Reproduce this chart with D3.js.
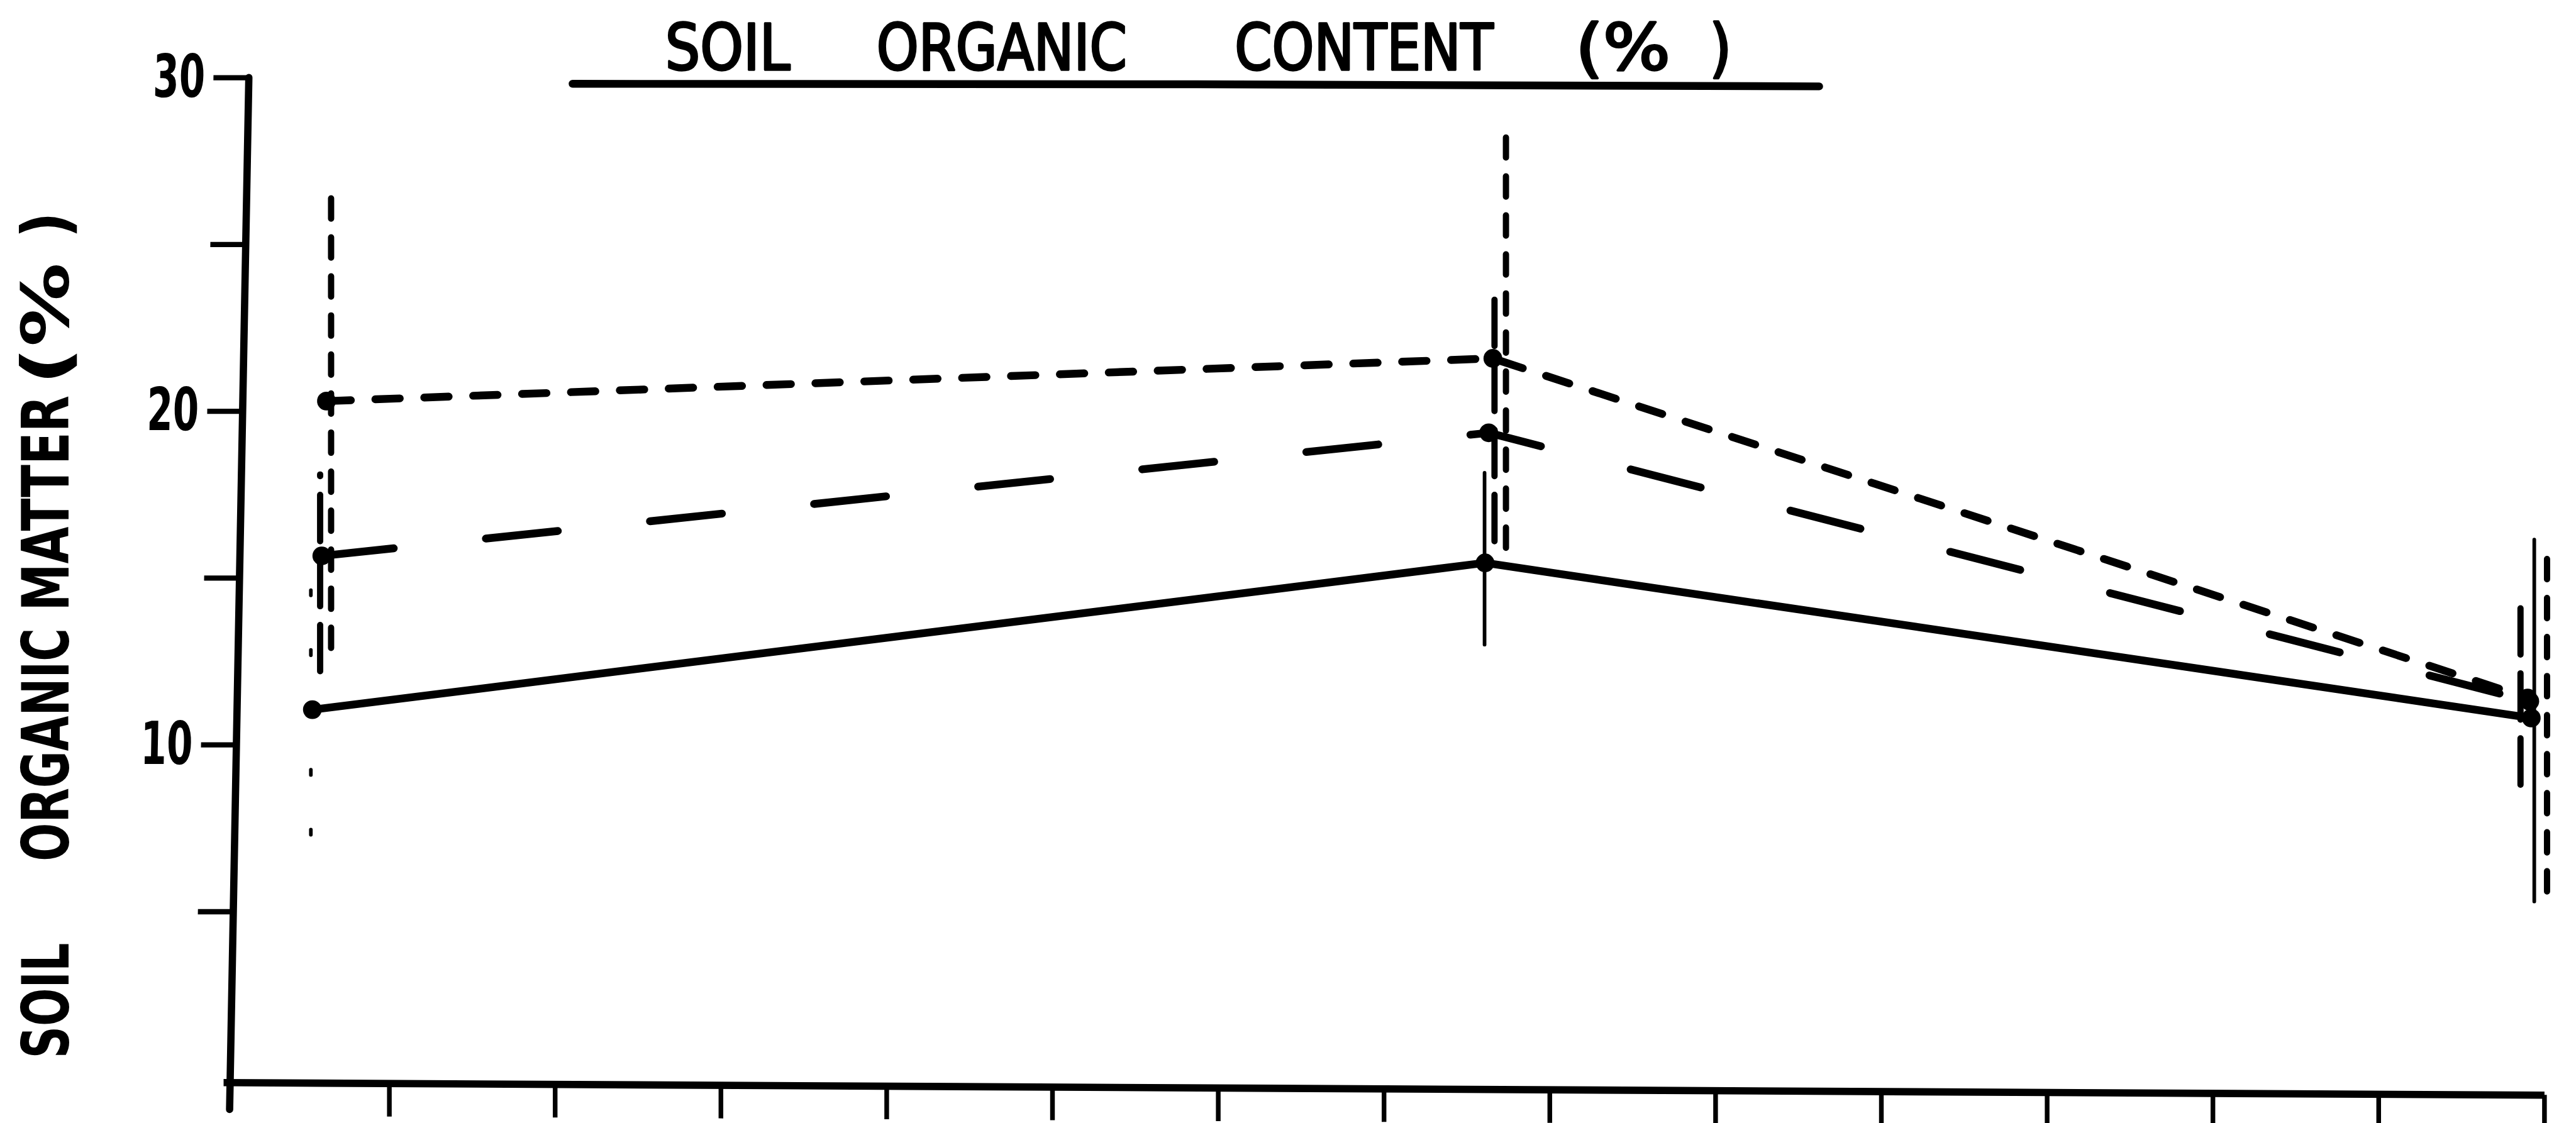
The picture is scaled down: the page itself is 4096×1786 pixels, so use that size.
<!DOCTYPE html>
<html>
<head>
<meta charset="utf-8">
<script src="https://cdn.jsdelivr.net/npm/d3@7"></script>
<style>
  html, body { margin: 0; padding: 0; background: #fff; }
  svg { display: block; }
  text { font-family: "DejaVu Sans Condensed", "DejaVu Sans", sans-serif; font-stretch: condensed; }
</style>
</head>
<body>
<svg id="chart"></svg>
<script>
// ---- data -------------------------------------------------------------
// x positions are given on the 14-division time axis
const xTickValues = [1, 2, 3, 4, 5, 6, 7, 8, 9, 10, 11, 12, 13, 14];
const yTickValues = [5, 10, 15, 20, 25, 30];
const yTickLabels = ["", "10", "", "20", "", "30"];

// series 1 (solid line)
const solidX    = [0.537, 7.611, 13.922];
const solidMean = [11.05, 15.45, 10.8];
const solidLow  = [7.3, 13.0, 5.3];
const solidHigh = [14.8, 18.15, 16.15];
const solidErrX = [0.528, 7.608, 13.94];

// series 2 (long dashes)
const longX    = [0.594, 7.633, 13.913];
const longMean = [15.66, 19.35, 11.3];
const longLow  = [12.2, 16.1, 8.8];
const longHigh = [18.1, 23.4, 14.3];
const longErrX = [0.584, 7.668, 13.857];

// series 3 (short dashes)
const shortX    = [0.622, 7.658, 13.9];
const shortMean = [20.3, 21.58, 11.4];
const shortLow  = [12.9, 15.9, 5.6];
const shortHigh = [26.6, 28.2, 16.1];
const shortErrX = [0.65, 7.737, 14.017];

const titleWords  = ["SOIL", "ORGANIC", "CONTENT", "(%", ")"];
const yLabelWords = ["SOIL", "ORGANIC", "MATTER", "(%", ")"];

// ---- layout of the hand-lettered words (start/end along the baseline) --
const titleSpans  = [[1282, 1514], [1688, 2161], [2376, 2865], [3031, 3205], [3288, 3313]];
const yLabelSpans = [[0, 214], [379, 819], [860, 1266], [1294, 1521], [1576, 1624]];

// ---- assemble series --------------------------------------------------
function rows(xs, means, lows, highs, errXs) {
  return xs.map((v, i) => ({ x: v, v: means[i], lo: lows[i], hi: highs[i], ex: errXs[i] }));
}
// errDash may be given per point: the first solid whisker is only faintly inked
const series = [
  { rows: rows(solidX, solidMean, solidLow, solidHigh, solidErrX), dash: null,      errDash: ["10 105", null, null], errWidth: 7 },
  { rows: rows(longX,  longMean,  longLow,  longHigh,  longErrX),  dash: "139 178", errDash: "89 36", errWidth: 12 },
  { rows: rows(shortX, shortMean, shortLow, shortHigh, shortErrX), dash: "47 47",   errDash: "39 36", errWidth: 12 }
];

// ---- drawing ------------------------------------------------------------
const W = 4949, H = 2158;
const svg = d3.select("#chart")
  .attr("width", 4096).attr("height", 1786)
  .attr("viewBox", `0 0 ${W} ${H}`);

svg.append("rect").attr("width", W).attr("height", H).attr("fill", "#fff");

const x = d3.scaleLinear().domain([0, 14]).range([429, 4888]);
const y = d3.scaleLinear().domain([0, 30]).range([2072, 149]);

// x axis: ticks only, no labels; the hand-ruled line falls slightly to the right
const xAxisG = svg.append("g")
  .attr("transform", "translate(0,2077.6) skewY(0.31)")
  .call(d3.axisBottom(x).tickValues(xTickValues).tickSize(64).tickSizeOuter(0).tickFormat(() => ""));
xAxisG.select(".domain").attr("stroke", "#000").attr("stroke-width", 14);
xAxisG.selectAll(".tick line").attr("stroke", "#000").attr("stroke-width", 9);

// y axis, leaning slightly as drawn
const yAxisG = svg.append("g")
  .attr("transform", "translate(480.8,0) skewX(-1.068)")
  .call(d3.axisLeft(y).tickValues(yTickValues).tickSize(68).tickPadding(16)
        .tickFormat((d, i) => yTickLabels[i]));
yAxisG.select(".domain").remove();
yAxisG.append("line")
  .attr("x1", 0).attr("x2", 0)
  .attr("y1", y(30)).attr("y2", y(0) + 60)
  .attr("stroke", "#000").attr("stroke-width", 14).attr("stroke-linecap", "round");
yAxisG.selectAll(".tick line").attr("stroke", "#000").attr("stroke-width", 10);
yAxisG.selectAll(".tick text")
  .attr("fill", "#000")
  .attr("font-size", 114)
  .attr("font-weight", "bold")
  .attr("font-family", "'DejaVu Sans Condensed', 'DejaVu Sans', sans-serif")
  .each(function () {
    if (this.textContent) d3.select(this).attr("textLength", 100).attr("lengthAdjust", "spacingAndGlyphs");
  });

// lettered words, each fitted to its span
function letter(g, words, spans, size, weight, outline) {
  g.selectAll("text")
    .data(words)
    .join("text")
    .attr("x", (d, i) => spans[i][0] - 4)
    .attr("y", 0)
    .attr("font-size", size)
    .attr("font-weight", weight)
    .attr("fill", "#000")
    .attr("stroke", outline ? "#000" : null)
    .attr("stroke-width", outline || null)
    .attr("stroke-linejoin", "round")
    .attr("textLength", (d, i) => d === ")" ? null : spans[i][1] - spans[i][0] + 8)
    .attr("lengthAdjust", "spacingAndGlyphs")
    .style("white-space", "pre")
    .text(d => d);
}

// y axis title, reading upwards
letter(svg.append("g").attr("transform", "translate(132,2030) rotate(-90)"),
       yLabelWords, yLabelSpans, 124, "bold", 0);

// chart title with its underline
letter(svg.append("g").attr("transform", "translate(0,134)"),
       titleWords, titleSpans, 122, "normal", 4);
svg.append("path")
  .attr("d", "M1100,161 L2300,162 L3495,166")
  .attr("fill", "none").attr("stroke", "#000")
  .attr("stroke-width", 15).attr("stroke-linecap", "round");

// series lines
const line = d3.line().x(d => x(d.x)).y(d => y(d.v));
const plot = svg.append("g");
series.forEach(s => {
  plot.append("path")
    .datum(s.rows)
    .attr("d", line)
    .attr("fill", "none")
    .attr("stroke", "#000")
    .attr("stroke-width", 15)
    .attr("stroke-linejoin", "round")
    .attr("stroke-linecap", "round")
    .attr("stroke-dasharray", s.dash);
});

// error bars
series.forEach(s => {
  plot.append("g").selectAll("line")
    .data(s.rows)
    .join("line")
    .attr("x1", d => x(d.ex)).attr("x2", d => x(d.ex))
    .attr("y1", d => y(d.lo)).attr("y2", d => y(d.hi))
    .attr("stroke", "#000")
    .attr("stroke-width", s.errWidth)
    .attr("stroke-linecap", "round")
    .attr("stroke-dasharray", (d, i) => Array.isArray(s.errDash) ? s.errDash[i] : s.errDash);
});

// point markers
series.forEach(s => {
  plot.append("g").selectAll("circle")
    .data(s.rows)
    .join("circle")
    .attr("cx", d => x(d.x))
    .attr("cy", d => y(d.v))
    .attr("r", 18)
    .attr("fill", "#000");
});
</script>
</body>
</html>
